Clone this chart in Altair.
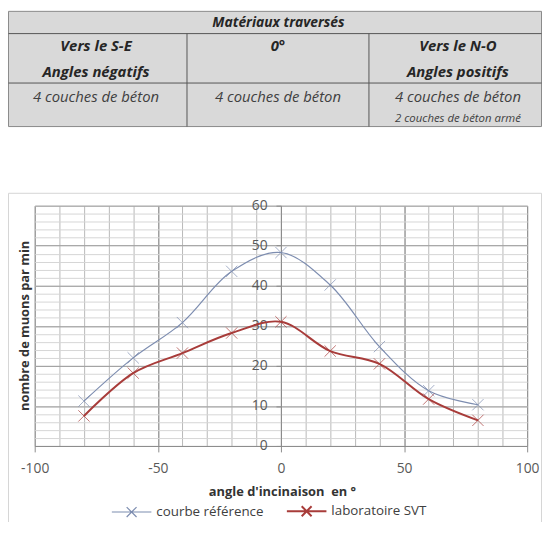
import altair as alt
import pandas as pd

# ---- data ----
angles = [-80, -60, -40, -20, 0, 20, 40, 60, 80]
reference = [11.2, 22.0, 30.8, 43.6, 48.3, 40.2, 24.8, 13.8, 10.3]
labo = [7.5, 18.2, 23.2, 28.2, 31.0, 23.7, 20.5, 11.7, 6.4]
series_names = ["courbe référence", "laboratoire SVT"]
series_colors = ["#7d8db0", "#a83c3a"]

x_minor_ticks = list(range(-100, 101, 10))
x_major_ticks = [-100, -50, 0, 50, 100]
y_minor_ticks = list(range(0, 61, 2))
y_major_ticks = list(range(0, 61, 10))

table_title = "Matériaux traversés"
col_heads = [["Vers le S-E", "Angles négatifs"], ["0°"], ["Vers le N-O", "Angles positifs"]]
col_materials = ["4 couches de béton", "4 couches de béton", "4  couches de béton"]
col3_extra = "2 couches de béton armé"
x_title = "angle d'incinaison\u00a0 en °"
y_title = "nombre de muons par min"

FONT = "Open Sans"

rows = []
for a, r, l in zip(angles, reference, labo):
    rows.append({"angle": a, "value": r, "serie": series_names[0]})
    rows.append({"angle": a, "value": l, "serie": series_names[1]})
df = pd.DataFrame(rows)

W, H = 498, 243
xs = alt.Scale(domain=[-100, 100], nice=False, zero=False)
ys = alt.Scale(domain=[0, 60], nice=False)
color_scale = alt.Scale(domain=series_names, range=series_colors)

one = pd.DataFrame({"k": [0]})

def box(x, x2, y, y2, fill, stroke, sw=1):
    return alt.Chart(one).mark_rect(fill=fill, stroke=stroke, strokeWidth=sw).encode(
        x=alt.value(x), x2=alt.value(x2), y=alt.value(y), y2=alt.value(y2))

def rule(x, x2, y, y2, color, sw=1):
    return alt.Chart(one).mark_rule(color=color, strokeWidth=sw).encode(
        x=alt.value(x), x2=alt.value(x2), y=alt.value(y), y2=alt.value(y2))

def label(txt, x, y, size, bold=False, italic=False, color="#262626"):
    return alt.Chart(one).mark_text(
        text=txt, font=FONT, fontSize=size,
        fontWeight="bold" if bold else "normal",
        fontStyle="italic" if italic else "normal",
        color=color, align="center", baseline="middle").encode(
        x=alt.value(x), y=alt.value(y))

# chart frame
frame = alt.Chart(one).mark_rect(fill="transparent", stroke="#d6d6d6", strokeWidth=1).encode(
    x=alt.value(-26.5), x2=alt.value(512.5), y=alt.value(-12.5), y2=alt.value(330))

# table
TL, TR, TT, TB = -26.5, 512.5, -196.5, -80
C1, C2 = 154, 338
R1, R2 = -174, -124
table = [
    box(TL, TR, TT, TB, "#d9d9d9", "#8a8a8a"),
    rule(TL, TR, R1, R1, "#555555"),
    rule(TL, TR, R2, R2, "#555555"),
    rule(C1, C1, R1, TB, "#555555"),
    rule(C2, C2, R1, TB, "#555555"),
    label(table_title, 246.5, -185, 14, bold=True, italic=True),
]
col_x = [62, 246, 428]
for cx, heads in zip(col_x, col_heads):
    for i, h in enumerate(heads):
        table.append(label(h, cx, -161 + 26 * i, 15, bold=True, italic=True))
for cx, m in zip(col_x, col_materials):
    table.append(label(m, cx, -110, 15, italic=True, color="#404040"))
table.append(label(col3_extra, col_x[2], -88, 11.5, italic=True, color="#404040"))

# grid layers
minor = alt.Chart(df).mark_point(opacity=0).encode(
    x=alt.X("angle:Q", scale=xs, axis=alt.Axis(
        values=x_minor_ticks, grid=True, gridColor="#b8b8b8", labels=False, ticks=False,
        domain=False, title=None, orient="bottom")),
    y=alt.Y("value:Q", scale=ys, axis=alt.Axis(
        values=y_minor_ticks, grid=True, gridColor="#d6d6d6", labels=False, ticks=False,
        domain=False, title=None, orient="left")),
)

major = alt.Chart(df).mark_point(opacity=0).encode(
    x=alt.X("angle:Q", scale=xs, axis=alt.Axis(
        values=x_major_ticks, grid=True, gridColor="#8c8c8c", labels=True,
        labelFont=FONT, labelFontSize=14, labelColor="#595959", labelFlush=False,
        labelExpr="'' + datum.value",
        labelPadding=10, ticks=True, tickSize=6, tickColor="#8c8c8c",
        domain=True, domainColor="#8c8c8c", orient="bottom",
        title=x_title, titleFont=FONT, titleFontSize=13, titleFontWeight="bold",
        titleColor="#333333", titleX=250, titleY=46, titleAlign="center",
        titleBaseline="middle")),
    y=alt.Y("value:Q", scale=ys, axis=alt.Axis(
        values=y_major_ticks, grid=True, gridColor="#9a9a9a", labels=False, ticks=False,
        domain=False, orient="left",
        title=y_title, titleFont=FONT, titleFontSize=13, titleFontWeight="bold",
        titleColor="#333333", titleX=-10, titleY=121, titleAngle=270,
        titleAlign="center", titleBaseline="middle")),
)

yaxis = alt.Chart(df).mark_point(opacity=0).encode(
    x=alt.X("angle:Q", scale=xs, axis=None),
    y=alt.Y("value:Q", scale=ys, axis=alt.Axis(
        values=y_major_ticks, grid=False, labels=True, labelFont=FONT, labelFontSize=14,
        labelColor="#595959", labelPadding=9, ticks=True, tickSize=5, tickColor="#8c8c8c",
        domain=True, domainColor="#8c8c8c", orient="left", offset=-249, title=None)),
)

legend_symbol = "M-1,0L1,0M-0.25,-0.25L0.25,0.25M-0.25,0.25L0.25,-0.25"

lines = alt.Chart(df).mark_line(interpolate="catmull-rom").encode(
    x=alt.X("angle:Q", scale=xs, axis=None),
    y=alt.Y("value:Q", scale=ys, axis=None),
    color=alt.Color("serie:N", scale=color_scale, legend=alt.Legend(
        orient="none", legendX=77, legendY=288, direction="horizontal", title=None,
        symbolType=legend_symbol, symbolSize=1600, symbolStrokeWidth=1.5,
        symbolFillColor="transparent",
        labelFont=FONT, labelFontSize=13.5, labelColor="#404040", labelOffset=4,
        columnPadding=19, padding=0, labelLimit=300)),
    strokeWidth=alt.StrokeWidth("serie:N", scale=alt.Scale(domain=series_names, range=[1.2, 2.0]),
                                legend=None),
)

xmark = "M-1,-1L1,1M-1,1L1,-1"
points = alt.Chart(df).mark_point(shape=xmark, filled=False, size=130, strokeWidth=1).encode(
    x=alt.X("angle:Q", scale=xs, axis=None),
    y=alt.Y("value:Q", scale=ys, axis=None),
    color=alt.Color("serie:N", scale=color_scale, legend=None),
)

chart = alt.layer(
    frame, *table, minor, major, yaxis, lines, points
).resolve_axis(
    x="independent", y="independent"
).properties(
    width=W, height=H,
    padding={"left": 27, "top": 197, "right": 15, "bottom": 74},
    autosize=alt.AutoSizeParams(type="none"),
    background="white",
).configure_view(stroke=None)

chart.save("out.html", embed_options={"renderer": "svg", "actions": False})
